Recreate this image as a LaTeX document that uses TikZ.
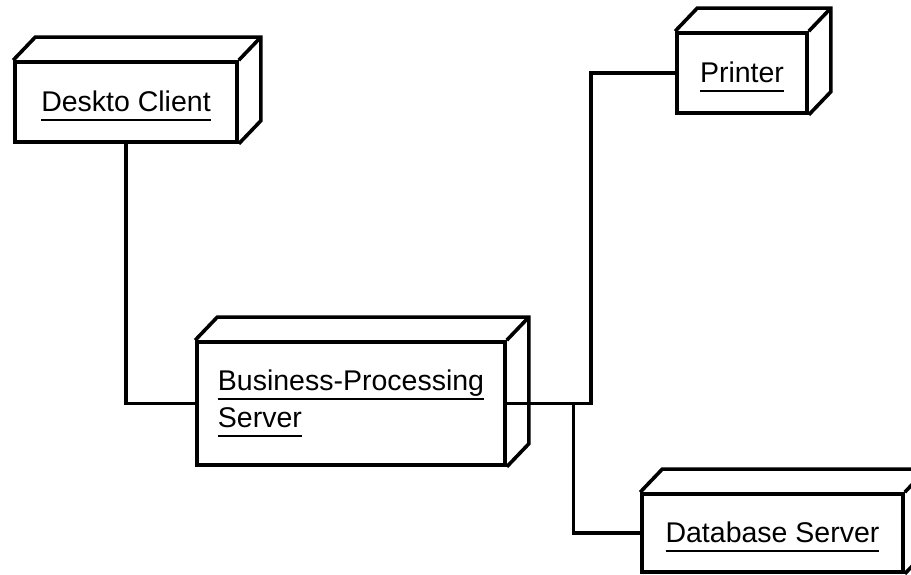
\documentclass[tikz,border=0pt]{standalone}
\usepackage{fontspec}
\setmainfont{Liberation Sans}
\usetikzlibrary{calc}

\newcommand{\devname}[1]{\setbox0\hbox{#1}\copy0\llap{\smash{\rule[-10pt]{\wd0}{2pt}}}\vrule width 0pt depth 2pt}

\begin{document}
\begin{tikzpicture}[
    x=1pt, y=1pt,
    device/.style={draw, line width=3.6pt, minimum height=80pt, inner sep=0pt, align=left, font=\fontsize{28.5}{37}\selectfont},
    boxedge/.style={line width=3.6pt},
    wire/.style={line width=3.2pt},
]
\useasboundingbox (0,0) rectangle (911,575);

% Nodes
\node[device, minimum width=222pt] (client) at (126,473) {\devname{Deskto Client}};
\node[device, minimum width=308pt, minimum height=123pt, text depth=10pt] (bps) at (351,171.5) {\devname{Business-Processing}\\\devname{Server}};
\node[device, minimum width=130pt] (printer) at (742,502) {\devname{Printer}};
\node[device, minimum width=261pt, minimum height=78pt] (db) at (772.5,42) {\devname{Database Server}};

% 3D faces
\foreach \n in {client, bps, printer, db}
  \draw[boxedge] (\n.north west) -- ++(22,23) -| ([shift={(22,23)}]\n.south east) -- (\n.south east)
    (\n.north east) -- ++(22,23);

% Links
\coordinate (jp) at ($(bps.east)!0.5!(printer.west)$);
\coordinate (jd) at ($(bps.east)!0.5!(db.west)$);
\draw[wire] (client) |- (bps);
\draw[wire] (bps.east) -| (jp) |- (printer.west);
\draw[wire] (bps.east) -| (jd) |- (db.west);
\end{tikzpicture}
\end{document}
